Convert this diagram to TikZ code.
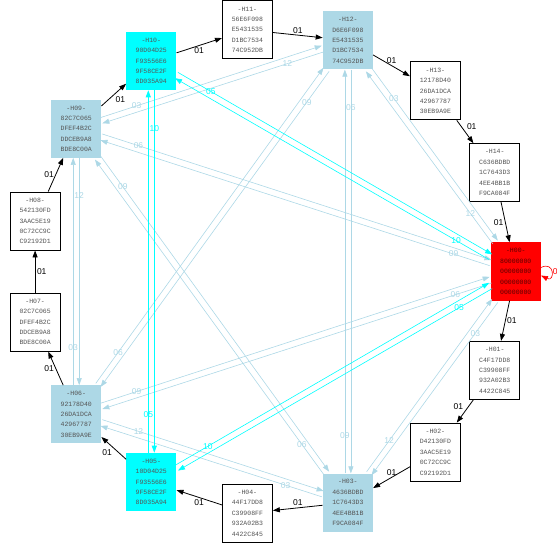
\documentclass[tikz,border=0pt]{standalone}
\usepackage{fontspec}
\setsansfont{Liberation Sans}
\setmonofont{Liberation Mono}
\usetikzlibrary{arrows.meta,calc}
\definecolor{ThirdClr}{rgb}{0.6784,0.8471,0.9020}
\definecolor{FifthClr}{rgb}{0,1,1}
\definecolor{ZeroClr}{rgb}{1,0,0}
\definecolor{HexClr}{rgb}{0.33,0.33,0.33}
\definecolor{ZeroTxt}{rgb}{0.35,0,0}

\tikzset{
  hash/.style={minimum width=50pt,minimum height=58pt,inner sep=0pt,align=center,
    font=\ttfamily\fontsize{6.5}{10.4}\selectfont,text=HexClr},
  plain/.style={hash,draw=black,line width=0.9pt,fill=white},
  third/.style={hash,fill=ThirdClr},
  fifth/.style={hash,fill=FifthClr},
  zero/.style={hash,fill=ZeroClr,text=ZeroTxt},
  lbl/.style={font=\sffamily\fontsize{8.5}{9}\selectfont,inner sep=1.5pt},
  tip/.style={-{Triangle[length=7pt,width=5pt]}},
  one/.style={tip,draw=black,line width=0.8pt},
  tbl/.style={tip,color=ThirdClr,line width=0.6pt},
  tcy/.style={tip,color=FifthClr,line width=0.6pt},
  pair/.style={to path={
    let \p1=(\tikztostart), \p2=(\tikztotarget),
        \n1={atan2(\y2-\y1,\x2-\x1)}, \n2={\n1+180},
        \p3=([shift={(\n1+90:3pt)}]\tikztostart.\n1),
        \p4=([shift={(\n1+90:3pt)}]\tikztotarget.\n2) in
    ($(\p3)!38pt!(\p4)$) node[lbl]{#1} (\p3) -- (\p4)}}
}

\begin{document}
\begin{tikzpicture}
\useasboundingbox (-272.8pt,-274.5pt) rectangle (284.2pt,271.5pt);

\node[zero]  (H00) at (0:243pt)    {-H00-\\80000000\\00000000\\00000000\\00000000};
\node[plain] (H01) at (-24:243pt)  {-H01-\\C4F17DD8\\C39908FF\\932A02B3\\4422C845};
\node[plain] (H02) at (-48:243pt)  {-H02-\\D42130FD\\3AAC5E19\\0C72CC9C\\C92192D1};
\node[third] (H03) at (-72:243pt)  {-H03-\\4636BDBD\\1C7643D3\\4EE4BB1B\\F9CA084F};
\node[plain] (H04) at (-96:243pt)  {-H04-\\44F17DD8\\C39908FF\\932A02B3\\4422C845};
\node[fifth] (H05) at (-120:243pt) {-H05-\\10D04D25\\F93556E6\\9F58CE2F\\8D035A94};
\node[third] (H06) at (-144:243pt) {-H06-\\92178D40\\26DA1DCA\\42967787\\30EB9A9E};
\node[plain] (H07) at (-168:243pt) {-H07-\\02C7C065\\DFEF4B2C\\DDCEB9A8\\BDE8C00A};
\node[plain] (H08) at (-192:243pt) {-H08-\\542130FD\\3AAC5E19\\0C72CC9C\\C92192D1};
\node[third] (H09) at (-216:243pt) {-H09-\\82C7C065\\DFEF4B2C\\DDCEB9A8\\BDE8C00A};
\node[fifth] (H10) at (-240:243pt) {-H10-\\90D04D25\\F93556E6\\9F58CE2F\\8D035A94};
\node[plain] (H11) at (-264:243pt) {-H11-\\56E6F098\\E5431535\\D1BC7534\\74C952DB};
\node[third] (H12) at (-288:243pt) {-H12-\\D6E6F098\\E5431535\\D1BC7534\\74C952DB};
\node[plain] (H13) at (-312:243pt) {-H13-\\12178D40\\26DA1DCA\\42967787\\30EB9A9E};
\node[plain] (H14) at (-336:243pt) {-H14-\\C636BDBD\\1C7643D3\\4EE4BB1B\\F9CA084F};

\draw[tbl] (H00) to[pair=03] (H03);
\draw[tbl] (H00) to[pair=06] (H06);
\draw[tbl] (H00) to[pair=09] (H09);
\draw[tbl] (H00) to[pair=12] (H12);
\draw[tbl] (H03) to[pair=03] (H06);
\draw[tbl] (H03) to[pair=06] (H09);
\draw[tbl] (H03) to[pair=09] (H12);
\draw[tbl] (H03) to[pair=12] (H00);
\draw[tbl] (H06) to[pair=03] (H09);
\draw[tbl] (H06) to[pair=06] (H12);
\draw[tbl] (H06) to[pair=09] (H00);
\draw[tbl] (H06) to[pair=12] (H03);
\draw[tbl] (H09) to[pair=03] (H12);
\draw[tbl] (H09) to[pair=06] (H00);
\draw[tbl] (H09) to[pair=09] (H03);
\draw[tbl] (H09) to[pair=12] (H06);
\draw[tbl] (H12) to[pair=03] (H00);
\draw[tbl] (H12) to[pair=06] (H03);
\draw[tbl] (H12) to[pair=09] (H06);
\draw[tbl] (H12) to[pair=12] (H09);

\draw[tcy] (H00) to[pair=05] (H05);
\draw[tcy] (H00) to[pair=10] (H10);
\draw[tcy] (H05) to[pair=05] (H10);
\draw[tcy] (H05) to[pair=10] (H00);
\draw[tcy] (H10) to[pair=05] (H00);
\draw[tcy] (H10) to[pair=10] (H05);

\draw[one] (H00) -- node[lbl,right]{01} (H01);
\draw[one] (H01) -- node[lbl,above left]{01} (H02);
\draw[one] (H02) -- node[lbl,above]{01} (H03);
\draw[one] (H03) -- node[lbl,above]{01} (H04);
\draw[one] (H04) -- node[lbl,below]{01} (H05);
\draw[one] (H05) -- node[lbl,below left]{01} (H06);
\draw[one] (H06) -- node[lbl,left]{01} (H07);
\draw[one] (H07) -- node[lbl,right]{01} (H08);
\draw[one] (H08) -- node[lbl,left]{01} (H09);
\draw[one] (H09) -- node[lbl,below right]{01} (H10);
\draw[one] (H10) -- node[lbl,below]{01} (H11);
\draw[one] (H11) -- node[lbl,above]{01} (H12);
\draw[one] (H12) -- node[lbl,above]{01} (H13);
\draw[one] (H13) -- node[lbl,above right]{01} (H14);
\draw[one] (H14) -- node[lbl,left]{01} (H00);

\draw[tip,color=ZeroClr,line width=0.6pt] ([yshift=4pt]H00.east)
  .. controls +(14pt,7pt) and +(14pt,-7pt) .. node[lbl,right,inner sep=1pt]{0} ([yshift=-4pt]H00.east);

\end{tikzpicture}
\end{document}
